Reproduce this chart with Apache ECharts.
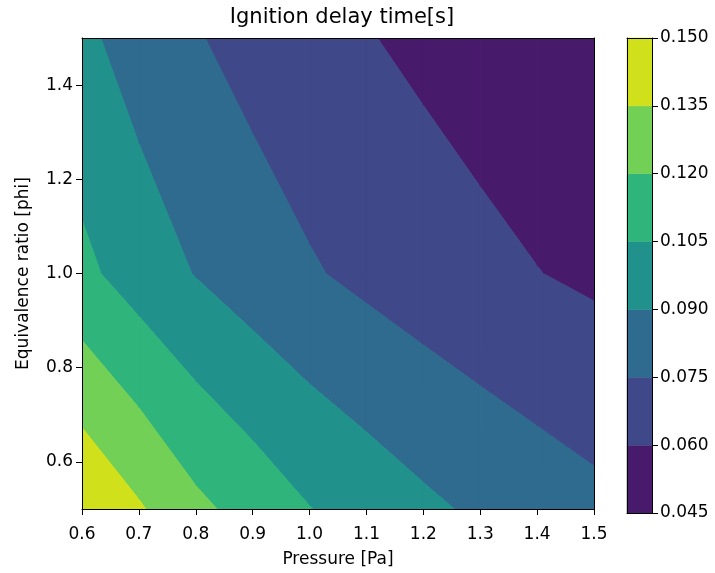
<!DOCTYPE html>
<html>
<head>
<meta charset="utf-8">
<script src="https://cdn.jsdelivr.net/npm/echarts@6/dist/echarts.min.js"></script>
<style>
html,body{margin:0;padding:0;background:#fff;}
#chart{width:715px;height:573px;}
</style>
</head>
<body>
<div id="chart"></div>
<script>
// ---- data ----
const pressure = [0.6, 0.7, 0.8, 0.9, 1.0, 1.1, 1.2, 1.3, 1.4, 1.5];
const phi = [0.5, 1.0, 1.5];
const delayPhi05 = [0.1490, 0.1366, 0.1234, 0.1143, 0.1054, 0.0990, 0.0929, 0.0876, 0.0830, 0.0789];
const delayPhi10 = [0.1085, 0.0980, 0.0894, 0.0823, 0.0764, 0.0715, 0.0672, 0.0635, 0.0603, 0.0575];
const delayPhi15 = [0.0932, 0.0835, 0.0760, 0.0700, 0.0650, 0.0607, 0.0571, 0.0540, 0.0512, 0.0488];
const levels = [0.045, 0.060, 0.075, 0.090, 0.105, 0.120, 0.135, 0.150];
const bandColors = ['#481a6c', '#3f4889', '#2e6b8e', '#21918c', '#2fb47c', '#73d056', '#d0e11c'];
const yTickValues = [0.6, 0.8, 1.0, 1.2, 1.4];

// ---- filled contour bands (marching squares via polygon clipping) ----
const values = [delayPhi05, delayPhi10, delayPhi15];
function cross(a, b, level) {
  const t = (level - a.v) / (b.v - a.v);
  return { x: a.x + (b.x - a.x) * t, y: a.y + (b.y - a.y) * t, v: level };
}
function clip(poly, level, sign) {
  const out = [];
  const n = poly.length;
  const inside = p => sign * (p.v - level) >= 0;
  for (let k = 0; k < n; k++) {
    const cur = poly[k], prev = poly[(k - 1 + n) % n];
    const ci = inside(cur), pi = inside(prev);
    if (ci) {
      if (!pi) out.push(cross(prev, cur, level));
      out.push(cur);
    } else if (pi) {
      out.push(cross(prev, cur, level));
    }
  }
  return out;
}
const polys = [];
for (let j = 0; j < phi.length - 1; j++) {
  for (let i = 0; i < pressure.length - 1; i++) {
    const cell = [
      { x: pressure[i], y: phi[j], v: values[j][i] },
      { x: pressure[i + 1], y: phi[j], v: values[j][i + 1] },
      { x: pressure[i + 1], y: phi[j + 1], v: values[j + 1][i + 1] },
      { x: pressure[i], y: phi[j + 1], v: values[j + 1][i] }
    ];
    for (let b = 0; b < levels.length - 1; b++) {
      let p = clip(cell, levels[b], 1);
      if (p.length >= 3) p = clip(p, levels[b + 1], -1);
      if (p.length >= 3) polys.push({ band: b, pts: p });
    }
  }
}

const FONT = 'DejaVu Sans';
const FS = 17;
const TXT = '#000';
const chart = echarts.init(document.getElementById('chart'), null, { renderer: 'canvas' });
const lineStyle = { color: '#000', width: 1 };

const option = {
  backgroundColor: '#fff',
  animation: false,
  title: {
    text: 'Ignition delay time[s]',
    left: 337, top: 2, textAlign: 'center',
    textStyle: { fontFamily: FONT, fontSize: 21, fontWeight: 'normal', color: TXT }
  },
  grid: [
    { left: 82, top: 38, width: 512, height: 475 },
    { left: 627, top: 38, width: 25, height: 475 }
  ],
  xAxis: [
    {
      gridIndex: 0, type: 'value', min: 0.6, max: 1.5, interval: 0.1, z: 10,
      name: 'Pressure [Pa]', nameLocation: 'middle', nameGap: 42,
      nameTextStyle: { fontFamily: FONT, fontSize: FS, color: TXT },
      axisLine: { show: true, onZero: false, lineStyle },
      axisTick: { show: true, inside: false, length: 6, lineStyle },
      axisLabel: { fontFamily: FONT, fontSize: FS, color: TXT, margin: 17, formatter: v => v.toFixed(1) },
      splitLine: { show: false }
    },
    {
      gridIndex: 0, type: 'value', min: 0.6, max: 1.5, position: 'top', z: 10,
      axisLine: { show: true, onZero: false, lineStyle },
      axisTick: { show: false }, axisLabel: { show: false }, splitLine: { show: false }
    },
    {
      gridIndex: 1, type: 'value', min: 0, max: 1, position: 'bottom', z: 10,
      axisLine: { show: true, onZero: false, lineStyle },
      axisTick: { show: false }, axisLabel: { show: false }, splitLine: { show: false }
    },
    {
      gridIndex: 1, type: 'value', min: 0, max: 1, position: 'top', z: 10,
      axisLine: { show: true, onZero: false, lineStyle },
      axisTick: { show: false }, axisLabel: { show: false }, splitLine: { show: false }
    }
  ],
  yAxis: [
    {
      gridIndex: 0, type: 'value', min: 0.5, max: 1.5, z: 10,
      name: 'Equivalence ratio [phi]', nameLocation: 'middle', nameGap: 50,
      nameTextStyle: { fontFamily: FONT, fontSize: FS, color: TXT },
      axisLine: { show: true, onZero: false, lineStyle },
      axisTick: { show: true, inside: false, length: 6, lineStyle, customValues: yTickValues },
      axisLabel: { fontFamily: FONT, fontSize: FS, color: TXT, margin: 9, customValues: yTickValues, formatter: v => v.toFixed(1) },
      splitLine: { show: false }
    },
    {
      gridIndex: 0, type: 'value', min: 0.5, max: 1.5, position: 'right', z: 10,
      axisLine: { show: true, onZero: false, lineStyle },
      axisTick: { show: false }, axisLabel: { show: false }, splitLine: { show: false }
    },
    {
      gridIndex: 1, type: 'value', min: 0.045, max: 0.15, interval: 0.015, position: 'right', z: 10,
      axisLine: { show: true, onZero: false, lineStyle },
      axisTick: { show: true, inside: false, length: 6, lineStyle },
      axisLabel: { fontFamily: FONT, fontSize: FS, color: TXT, margin: 8, formatter: v => v.toFixed(3) },
      splitLine: { show: false }
    },
    {
      gridIndex: 1, type: 'value', min: 0.045, max: 0.15, position: 'left', z: 10,
      axisLine: { show: true, onZero: false, lineStyle },
      axisTick: { show: false }, axisLabel: { show: false }, splitLine: { show: false }
    }
  ],
  series: [
    {
      type: 'custom', xAxisIndex: 0, yAxisIndex: 0, z: 1, clip: true, silent: true,
      data: polys.map((p, k) => [p.pts[0].x, p.pts[0].y, k]),
      encode: { x: 0, y: 1 },
      renderItem: (params, api) => {
        const P = polys[api.value(2)];
        const pts = P.pts.map(p => api.coord([p.x, p.y]));
        const c = bandColors[P.band];
        return { type: 'polygon', shape: { points: pts }, style: { fill: c, stroke: c, lineWidth: 1 } };
      }
    },
    {
      type: 'custom', xAxisIndex: 2, yAxisIndex: 2, z: 1, silent: true,
      data: bandColors.map((c, b) => [0.5, (levels[b] + levels[b + 1]) / 2, b]),
      encode: { x: 0, y: 1 },
      renderItem: (params, api) => {
        const b = api.value(2);
        const p0 = api.coord([0, levels[b]]);
        const p1 = api.coord([1, levels[b + 1]]);
        return {
          type: 'rect',
          shape: { x: p0[0], y: p1[1], width: p1[0] - p0[0], height: p0[1] - p1[1] },
          style: { fill: bandColors[b], stroke: bandColors[b], lineWidth: 0.5 }
        };
      }
    }
  ]
};
chart.setOption(option);
</script>
</body>
</html>
